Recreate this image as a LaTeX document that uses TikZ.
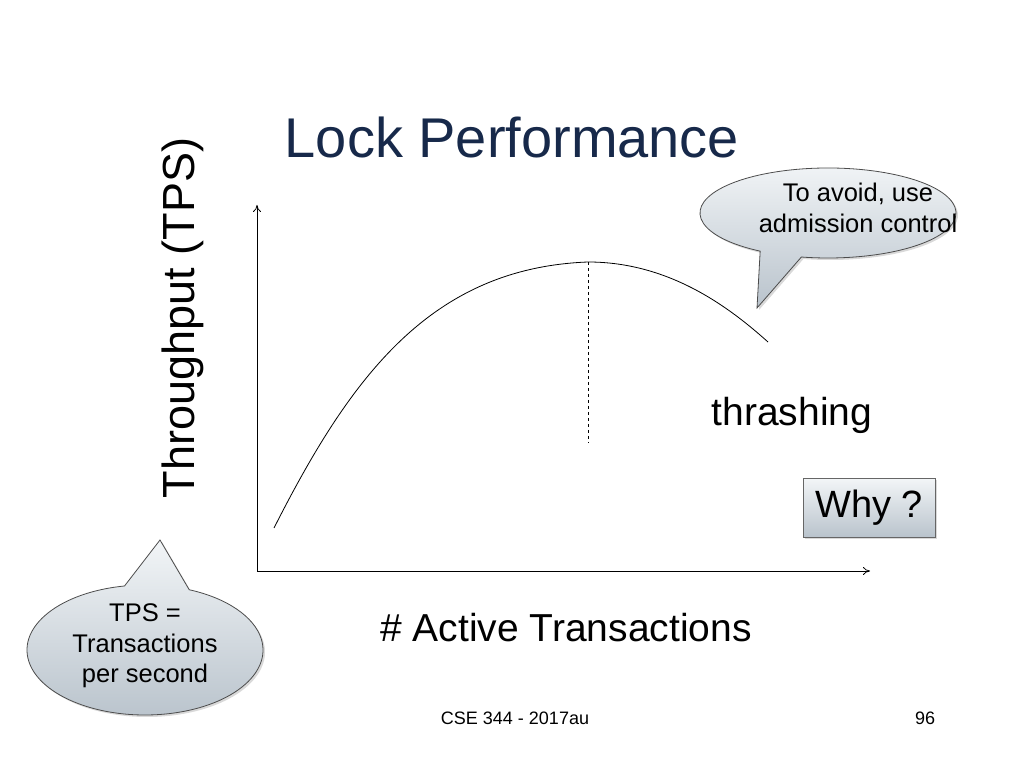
\documentclass[tikz,border=0pt]{standalone}
\usepackage{fontspec}
\setmainfont{Liberation Sans}
\usetikzlibrary{shadows,calc,arrows.meta}
\definecolor{navy}{HTML}{17294A}
\definecolor{ctop}{HTML}{F2F5F7}
\definecolor{cbot}{HTML}{B9C3CC}
\begin{document}
\begin{tikzpicture}[x=1pt,y=1pt,
  callout/.style={draw=black!70,line width=0.8pt,top color=ctop,bottom color=cbot,drop shadow={shadow xshift=2pt,shadow yshift=-2pt,opacity=0.3}},
  big/.style={font=\fontsize{39}{44}\selectfont},
  ctext/.style={font=\fontsize{25.5}{30.5}\selectfont,align=center},
  axis/.style={line width=0.8pt,-{To[length=7pt,width=8pt]}}]
\useasboundingbox (0,0) rectangle (1024,768);
\node[font=\fontsize{56}{60}\selectfont,text=navy] (title) at (512,631) {Lock Performance};
\coordinate (o) at (257,197);
\coordinate (ytop) at (257,563);
\coordinate (xend) at (870,197);
\draw[axis] (o) -- (ytop);
\draw[axis] (o) -- (xend);
\node[font=\fontsize{45}{50}\selectfont,rotate=90] (ylab) at (183,450) {Throughput (TPS)};
\node[big] (xlab) at (566,140) {\# Active Transactions};
\coordinate (c0) at (274,240);
\coordinate (peak) at (588,506);
\coordinate (c1) at (768,426);
\draw[line width=0.8pt] (c0) .. controls (350,390) and (430,500) .. (peak) .. controls (670,506) and (730,460) .. (c1);
\coordinate (dbot) at (588,325);
\draw[dashed,line width=0.8pt] (peak) -- (dbot);
\node[big] (thr) at (792,353) {thrashing};
\node[callout,draw=black!60,minimum width=132pt,minimum height=59pt,font=\fontsize{38}{40}\selectfont,inner sep=0pt] (why) at (869,260) {Why ?};
% top right callout
\coordinate (cc1) at (828,555);
\coordinate (tip1) at (757,460);
\path[callout] ($(cc1)+(258:128 and 45)$) -- (tip1) -- ($(cc1)+(238:128 and 45)$) arc[start angle=238,end angle=-102,x radius=128,y radius=45] -- cycle;
\node[ctext] (t1) at (858,560) {To avoid, use\\admission control};
% bottom left callout
\coordinate (cc2) at (145,118);
\coordinate (tip2) at (160,228);
\path[callout] ($(cc2)+(68:118 and 65)$) -- (tip2) -- ($(cc2)+(100:118 and 65)$) arc[start angle=100,end angle=428,x radius=118,y radius=65] -- cycle;
\node[ctext] (t2) at (145,122) {TPS =\\Transactions\\per second};
\node[font=\fontsize{18}{20}\selectfont] (foot) at (515,50) {CSE 344 - 2017au};
\node[font=\fontsize{18}{20}\selectfont] (num) at (925,50) {96};
\end{tikzpicture}
\end{document}
